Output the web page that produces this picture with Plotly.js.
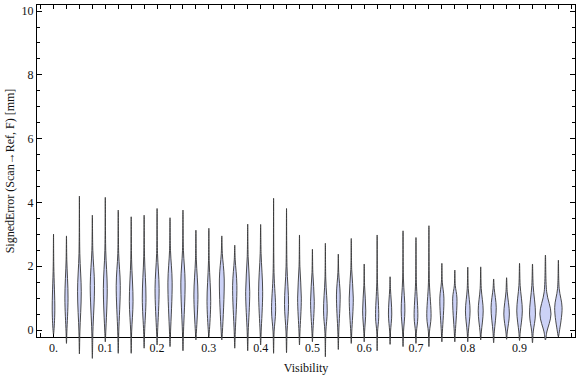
<!DOCTYPE html>
<html>
<head>
<meta charset="utf-8">
<script src="https://cdn.plot.ly/plotly-3.0.1.min.js"></script>
<style>html,body{margin:0;padding:0;background:#fff;}#chart{width:576px;height:377px;}</style>
</head>
<body>
<div id="chart"></div>
<script>
// ---- data ----
const visibility = [0, 0.025, 0.05, 0.075, 0.1, 0.125, 0.15, 0.175, 0.2, 0.225,
                    0.25, 0.275, 0.3, 0.325, 0.35, 0.375, 0.4, 0.425, 0.45, 0.475,
                    0.5, 0.525, 0.55, 0.575, 0.6, 0.625, 0.65, 0.675, 0.7, 0.725,
                    0.75, 0.775, 0.8, 0.825, 0.85, 0.875, 0.9, 0.925, 0.95, 0.975];
const errMin = [-0.13, -0.42, -0.75, -0.89, -0.37, -0.73, -0.73, -0.57, -0.47, -0.52,
                -0.65, -0.31, -0.21, -0.31, -0.57, -0.65, -0.47, -0.73, -0.71, -0.47,
                -0.37, -0.84, -0.61, -0.42, -0.37, -0.65, -0.45, -0.52, -0.42, -0.52,
                -0.37, -0.37, -0.37, -0.31, -0.40, -0.29, -0.33, -0.40, -0.31, -0.21];
const errMax = [3.01, 2.95, 4.20, 3.60, 4.16, 3.76, 3.55, 3.60, 3.81, 3.52,
                3.76, 3.13, 3.19, 2.95, 2.66, 3.32, 3.31, 4.13, 3.81, 2.98,
                2.53, 2.72, 2.38, 2.87, 2.07, 2.98, 1.67, 3.11, 2.90, 3.27,
                2.09, 1.88, 1.97, 1.98, 1.60, 1.64, 2.09, 2.07, 2.35, 2.19];
const errMode = [0.6, 1.0, 1.2, 1.4, 1.3, 1.4, 0.9, 1.0, 1.3, 1.5,
                 1.5, 1.1, 0.9, 1.6, 1.4, 1.2, 1.2, 0.6, 0.8, 1.0,
                 0.9, 0.6, 1.1, 1.0, 0.6, 0.4, 0.5, 0.6, 0.4, 0.4,
                 1.0, 1.0, 0.6, 0.6, 0.7, 0.5, 0.6, 0.5, 0.5, 0.7];
const peakDensity = [1.4, 1.7, 2.0, 2.3, 2.1, 2.2, 2.0, 2.0, 2.2, 2.3,
                     2.3, 2.2, 2.0, 2.6, 2.3, 2.2, 2.2, 2.2, 2.2, 2.0,
                     2.0, 2.0, 2.0, 2.2, 1.7, 1.7, 1.8, 2.0, 2.0, 2.3,
                     2.2, 2.3, 2.5, 2.7, 2.8, 3.0, 3.0, 3.2, 6.0, 4.0];
const bulgeTop = [2.0, 2.2, 2.4, 2.5, 2.5, 2.4, 2.2, 2.3, 2.4, 2.5,
                  2.5, 2.2, 2.1, 2.4, 2.2, 2.3, 2.4, 1.8, 2.0, 2.0,
                  1.8, 1.6, 1.8, 1.9, 1.4, 1.5, 1.3, 1.6, 1.5, 1.5,
                  1.5, 1.4, 1.3, 1.3, 1.3, 1.2, 1.4, 1.4, 1.2, 1.3];
const xTickVals = [0, 0.1, 0.2, 0.3, 0.4, 0.5, 0.6, 0.7, 0.8, 0.9];
const xTickText = ['0.', '0.1', '0.2', '0.3', '0.4', '0.5', '0.6', '0.7', '0.8', '0.9'];
const yTickVals = [0, 2, 4, 6, 8, 10];
const yTickText = ['0', '2', '4', '6', '8', '10'];

// ---- styling / geometry ----
const W = 576, H = 377;
const M = {l: 37, r: 1, t: 5, b: 15};
const plotH = H - M.t - M.b;
const axisPx = 337;                       // pixel row of the bottom frame line
const yLo = -0.219, yHi = 10.19;
const pxPerUnit = (plotH - (H - M.b - axisPx)) / (yHi - yLo);
const yLo2 = yLo - (H - M.b - axisPx) / pxPerUnit;
const yDomLo = (H - M.b - axisPx) / plotH;
const xRange = [-0.0319, 1.0071];
const DENSITY_SCALE = 1 / 560;            // density unit -> x data units
const FILL = 'rgb(204,210,247)';
const EDGE = 'rgba(55,55,55,0.9)';
const FONT = 'Liberation Serif, Times New Roman, serif';

const traces = visibility.map((xc, i) => {
  const lo = errMin[i], hi = errMax[i], md = errMode[i], pk = peakDensity[i] * DENSITY_SCALE;
  const kb = Math.max(lo + 0.04, -0.06), kt = bulgeTop[i];
  const ys = [lo, kb, md, kt, hi];
  const ws = [0, 0.25 * pk, pk, 0.22 * pk, 0];
  const X = [], Y = [];
  for (let k = 0; k < ys.length; k++) { X.push(xc + ws[k]); Y.push(ys[k]); }
  for (let k = ys.length - 2; k >= 0; k--) { X.push(xc - ws[k]); Y.push(ys[k]); }
  return {
    type: 'scatter', mode: 'lines', x: X, y: Y, xaxis: 'x2', yaxis: 'y2',
    fill: 'toself', fillcolor: FILL,
    line: {color: EDGE, width: 1, shape: 'spline', smoothing: 1},
    hoverinfo: 'skip', showlegend: false
  };
});
// anchor trace for the frame subplot
traces.unshift({type: 'scatter', x: [0], y: [0], mode: 'markers', marker: {opacity: 0}, showlegend: false, hoverinfo: 'skip'});

const layout = {
  width: W, height: H, margin: M,
  paper_bgcolor: '#fff', plot_bgcolor: 'rgba(0,0,0,0)',
  font: {family: FONT, size: 12, color: '#111'},
  showlegend: false,
  xaxis: {
    domain: [0, 1], anchor: 'y', range: xRange, showgrid: false, zeroline: false,
    showline: true, linecolor: '#000', linewidth: 1, mirror: 'ticks',
    ticks: 'inside', ticklen: 4, tickcolor: '#000', tickwidth: 1,
    tickvals: xTickVals, ticktext: xTickText,
    minor: {ticks: 'inside', dtick: 0.025, tick0: 0, ticklen: 4, tickcolor: '#000', showgrid: false},
    tickfont: {family: FONT, size: 12, color: '#111'},
    title: {text: 'Visibility', font: {family: FONT, size: 12, color: '#111'}, standoff: 9},
    automargin: false
  },
  yaxis: {
    domain: [yDomLo, 1], anchor: 'x', range: [yLo, yHi], showgrid: false, zeroline: false,
    showline: true, linecolor: '#000', linewidth: 1, mirror: 'ticks',
    ticks: 'inside', ticklen: 5, tickcolor: '#000', tickwidth: 1,
    tickvals: yTickVals, ticktext: yTickText,
    minor: {ticks: 'inside', dtick: 0.5, tick0: 0, ticklen: 3, tickcolor: '#000', showgrid: false},
    tickfont: {family: FONT, size: 12, color: '#111'},
    title: {text: 'SignedError (Scan\u2192Ref, F) [mm]', font: {family: FONT, size: 12, color: '#111'}, standoff: 4},
    automargin: false
  },
  xaxis2: {domain: [0, 1], anchor: 'y2', range: xRange, visible: false, fixedrange: true},
  yaxis2: {domain: [0, 1], anchor: 'x2', range: [yLo2, yHi], visible: false, fixedrange: true}
};

Plotly.newPlot('chart', traces, layout, {staticPlot: true, displayModeBar: false});
</script>
</body>
</html>
